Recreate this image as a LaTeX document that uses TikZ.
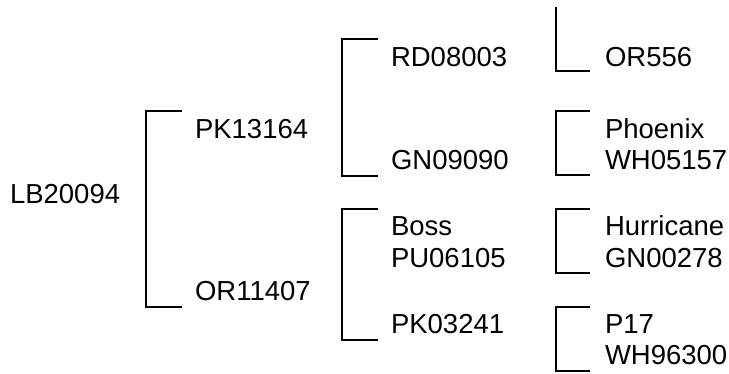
\documentclass[tikz,border=0pt]{standalone}
\usepackage{fontspec}
\setmainfont{Liberation Sans}
\begin{document}
\begin{tikzpicture}[x=1pt,y=-1pt,line width=2pt,
		entry/.style={anchor=base west,inner sep=0pt,font=\fontsize{27.5}{31.5}\selectfont}]
		\useasboundingbox (0,0) rectangle (729,373);

		\node[entry] (lb20094) at (9,203) {LB20094};

		\node[entry] (pk13164) at (194,138) {PK13164};
		\node[entry] (or11407) at (194,300) {OR11407};

		\node[entry] (rd08003) at (390,66) {RD08003};
		\node[entry] (gn09090) at (390,169) {GN09090};
		\node[entry] (boss) at (390,235) {Boss};
		\node[entry] (pu06105) at (390,267) {PU06105};
		\node[entry] (pk03241) at (390,333) {PK03241};

		\node[entry] (or556) at (604,66) {OR556};
		\node[entry] (phoenix) at (604,138) {Phoenix};
		\node[entry] (wh05157) at (604,169) {WH05157};
		\node[entry] (hurricane) at (604,235) {Hurricane};
		\node[entry] (gn00278) at (604,267) {GN00278};
		\node[entry] (p17) at (604,333) {P17};
		\node[entry] (wh96300) at (604,364) {WH96300};

		\draw ([shift={(-12,-27)}]pk13164.base west) -- ++(-36,0) |- ([shift={(-12,6.5)}]or11407.base west);
		\draw ([shift={(-12,-27)}]rd08003.base west) -- ++(-36,0) |- ([shift={(-12,6.5)}]gn09090.base west);
		\draw ([shift={(-12,-26.5)}]boss.base west) -- ++(-36,0) |- ([shift={(-12,7)}]pk03241.base west);
		\draw ([shift={(-14,5)}]or556.base west) -- ++(-34,0) -- ++(0,-64);
		\draw ([shift={(-14,-27)}]phoenix.base west) -- ++(-34,0) |- ([shift={(-14,6)}]wh05157.base west);
		\draw ([shift={(-14,-26.5)}]hurricane.base west) -- ++(-34,0) |- ([shift={(-14,6)}]gn00278.base west);
		\draw ([shift={(-14,-26.5)}]p17.base west) -- ++(-34,0) |- ([shift={(-14,7)}]wh96300.base west);
	\end{tikzpicture}
\end{document}
